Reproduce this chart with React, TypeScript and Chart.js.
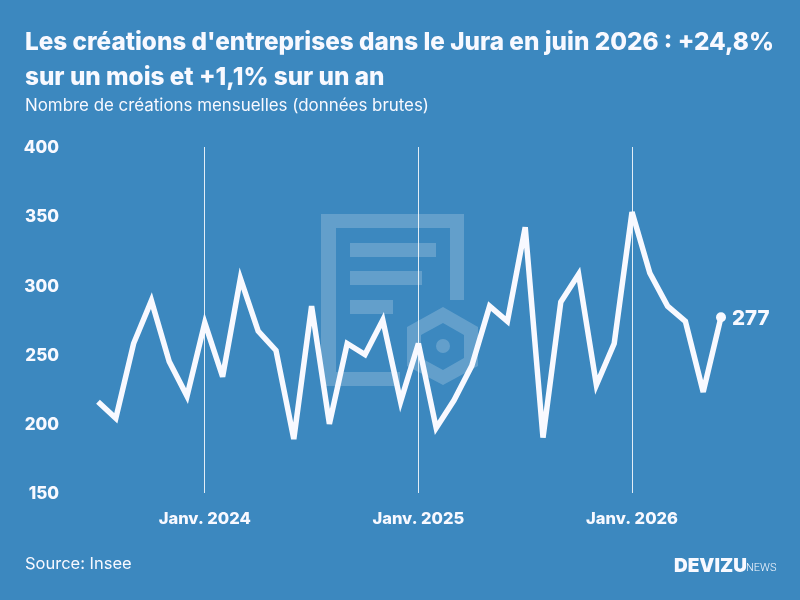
import { useEffect, useRef } from 'react';
import { Chart, registerables } from 'chart.js';

Chart.register(...registerables);

const months = [
  'Juil. 2023', 'Août 2023', 'Sept. 2023', 'Oct. 2023', 'Nov. 2023', 'Déc. 2023',
  'Janv. 2024', 'Févr. 2024', 'Mars 2024', 'Avr. 2024', 'Mai 2024', 'Juin 2024',
  'Juil. 2024', 'Août 2024', 'Sept. 2024', 'Oct. 2024', 'Nov. 2024', 'Déc. 2024',
  'Janv. 2025', 'Févr. 2025', 'Mars 2025', 'Avr. 2025', 'Mai 2025', 'Juin 2025',
  'Juil. 2025', 'Août 2025', 'Sept. 2025', 'Oct. 2025', 'Nov. 2025', 'Déc. 2025',
  'Janv. 2026', 'Févr. 2026', 'Mars 2026', 'Avr. 2026', 'Mai 2026', 'Juin 2026',
];
const creations = [
  216, 204, 258, 289, 245, 220,
  273, 234, 305, 267, 253, 189,
  285, 200, 258, 250, 275, 216,
  258, 197, 217, 242, 285, 274,
  342, 190, 288, 308, 228, 258,
  353, 309, 285, 274, 223, 277,
];

const BG = '#3c88bf';
const WHITE = '#f8f9ff';
const FONT = 'Inter, sans-serif';
const last = creations.length - 1;

const miter = {
  id: 'miter',
  beforeDatasetsDraw(chart: Chart) {
    chart.ctx.miterLimit = 4;
  },
};

const endLabel = {
  id: 'endLabel',
  afterDatasetsDraw(chart: Chart) {
    const pt = chart.getDatasetMeta(0).data[last];
    const ctx = chart.ctx;
    ctx.save();
    ctx.fillStyle = WHITE;
    ctx.font = `800 20.5px ${FONT}`;
    ctx.textBaseline = 'middle';
    ctx.fillText(String(creations[last]), pt.x + 11, pt.y + 2);
    ctx.restore();
  },
};

const text = (top: number, left: number, size: number, weight: number): React.CSSProperties => ({
  position: 'absolute',
  top,
  left,
  fontSize: size,
  fontWeight: weight,
  fontFamily: FONT,
  color: WHITE,
  whiteSpace: 'nowrap',
});

const App = () => {
  const canvasRef = useRef<HTMLCanvasElement>(null);

  useEffect(() => {
    if (!canvasRef.current) return;
    document.body.style.margin = '0';

    const chart = new Chart(canvasRef.current, {
      type: 'line',
      data: {
        labels: months,
        datasets: [
          {
            data: creations,
            borderColor: WHITE,
            backgroundColor: WHITE,
            borderWidth: 5.5,
            borderJoinStyle: 'miter',
            tension: 0,
            clip: false,
            pointRadius: (c) => (c.dataIndex === last ? 5 : 0),
            pointBorderWidth: 0,
          },
        ],
      },
      options: {
        animation: false,
        responsive: false,
        layout: { padding: { top: 147, right: 79, left: 0, bottom: 0 } },
        plugins: { legend: { display: false }, tooltip: { enabled: false } },
        scales: {
          x: {
            afterFit: (scale) => {
              scale.height = 107;
            },
            border: { display: false },
            grid: {
              drawTicks: false,
              lineWidth: 1,
              color: (c) =>
                months[c.index]?.startsWith('Janv.') ? 'rgba(255,255,255,0.85)' : 'transparent',
            },
            ticks: {
              autoSkip: false,
              maxRotation: 0,
              padding: 16,
              color: WHITE,
              font: { family: FONT, size: 16.5, weight: 800 },
              callback: (_v, i) => (months[i].startsWith('Janv.') ? months[i] : ''),
            },
          },
          y: {
            min: 150,
            max: 400,
            afterFit: (scale) => {
              scale.width = 98;
            },
            border: { display: false },
            grid: { display: false, drawTicks: false },
            ticks: {
              stepSize: 50,
              padding: 39,
              labelOffset: 1,
              color: WHITE,
              font: { family: FONT, size: 17, weight: 800 },
            },
          },
        },
      },
      plugins: [miter, endLabel],
    });

    return () => chart.destroy();
  }, []);

  return (
    <div style={{ position: 'relative', width: 800, height: 600, background: BG, overflow: 'hidden' }}>
      <svg width={800} height={600} style={{ position: 'absolute', left: 0, top: 0 }}>
        <g fill="#fff" fillOpacity={0.2}>
          <path d="M321 214H464V300H450V228H336V372H400V386H321Z" />
          <rect x={350} y={243} width={86} height={14} />
          <rect x={350} y={271} width={72} height={14} />
          <rect x={350} y={300} width={43} height={14} />
          <path
            fillRule="evenodd"
            d="M443 307L478 327V366L443 385L407 366V327ZM443 323L421 335V358L443 370L464 358V335Z"
          />
          <circle cx={443} cy={346} r={7} />
        </g>
      </svg>
      <canvas ref={canvasRef} width={800} height={600} style={{ position: 'absolute', left: 0, top: 0 }} />
      <div style={text(26, 25, 24.3, 800)}>Les créations d'entreprises dans le Jura en juin 2026 : +24,8%</div>
      <div style={text(61, 25, 24.3, 800)}>sur un mois et +1,1% sur un an</div>
      <div style={text(95, 25, 16.9, 400)}>Nombre de créations mensuelles (données brutes)</div>
      <div style={text(553, 25, 16.5, 400)}>Source: Insee</div>
      <div style={text(554, 674, 19, 900)}>DEVIZU</div>
      <div style={{ ...text(561, 746, 11, 300), fontFamily: 'Roboto, sans-serif' }}>NEWS</div>
    </div>
  );
};

export default App;
